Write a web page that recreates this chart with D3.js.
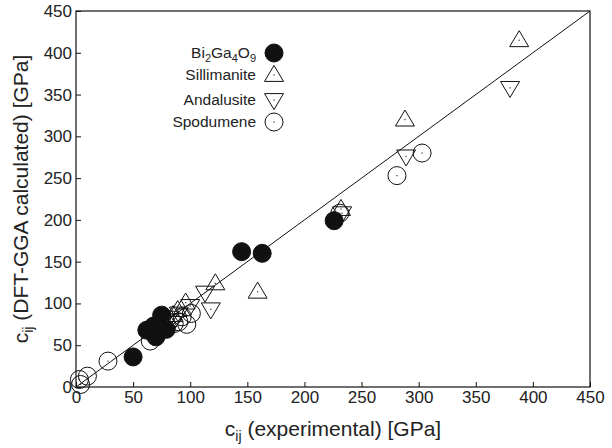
<!DOCTYPE html>
<html>
<head>
<meta charset="utf-8">
<script src="https://cdn.jsdelivr.net/npm/d3@7"></script>
<style>
    body { margin: 0; background: #fff; }
    svg { display: block; font-family: "Liberation Sans", Arial, sans-serif; }
</style>
</head>
<body>
<svg id="chart" width="612" height="448"></svg>
<script>
// values, [experimental, calculated] in GPa
let bi2ga4o9 = [[50, 36], [62, 68], [68, 73], [70, 60], [75, 86], [79, 69], [145, 162], [163, 160], [226, 199]];
let sillimanite = [[388, 415], [288, 320], [232, 213], [159, 114], [122, 124], [96, 101], [89, 92], [85, 86], [80, 80]];
let andalusite = [[380, 358], [289, 276], [233, 208], [113, 113], [118, 93], [100, 97], [90, 88], [86, 80], [82, 83]];
let spodumene = [[303, 280], [281, 253], [231, 208], [3, 9], [4, 3], [10, 13], [28, 31], [65, 55], [90, 78], [97, 75], [101, 88], [93, 84], [86, 76]];
let ticks = [0, 50, 100, 150, 200, 250, 300, 350, 400, 450];
let seriesNames = ["Bi2Ga4O9", "Sillimanite", "Andalusite", "Spodumene"];

let svg = d3.select("#chart");

let plotL = 76, plotR = 590, plotT = 11, plotB = 387;
let x = d3.scaleLinear().domain([0, 450]).range([plotL, plotR]);
let y = d3.scaleLinear().domain([0, 450]).range([plotB, plotT]);

let ink = "#111";
let r = 9;

// axes with inward ticks
let xAxis = svg.append("g")
    .attr("transform", "translate(0," + plotB + ")")
    .call(d3.axisBottom(x).tickValues(ticks).tickSizeInner(-5).tickSizeOuter(0).tickPadding(4));
let yAxis = svg.append("g")
    .attr("transform", "translate(" + plotL + ",0)")
    .call(d3.axisLeft(y).tickValues(ticks).tickSizeInner(-5).tickSizeOuter(0).tickPadding(4));

for (let ax of [xAxis, yAxis]) {
    ax.select(".domain").remove();
    ax.selectAll("line").attr("stroke", ink);
    ax.selectAll("text")
        .attr("fill", "#222")
        .attr("font-size", 17)
        .attr("font-family", "Liberation Sans, Arial, sans-serif");
}

svg.append("rect")
    .attr("x", plotL)
    .attr("y", plotT)
    .attr("width", plotR - plotL)
    .attr("height", plotB - plotT)
    .attr("fill", "none")
    .attr("stroke", ink)
    .attr("stroke-width", 1.2);

// y = x reference line
svg.append("line")
    .attr("x1", x(0)).attr("y1", y(0))
    .attr("x2", x(450)).attr("y2", y(450))
    .attr("stroke", ink)
    .attr("stroke-width", 1);

let triUp = (cx, cy) => {
    let h = 16, w = 19;
    return "M" + cx + "," + (cy - h * 0.6) + "L" + (cx + w / 2) + "," + (cy + h * 0.4) + "L" + (cx - w / 2) + "," + (cy + h * 0.4) + "Z";
};
let triDown = (cx, cy) => {
    let h = 16, w = 19;
    return "M" + cx + "," + (cy + h * 0.6) + "L" + (cx + w / 2) + "," + (cy - h * 0.4) + "L" + (cx - w / 2) + "," + (cy - h * 0.4) + "Z";
};

let drawMarker = (g, kind, cx, cy) => {
    if (kind == 0) {
        g.append("circle").attr("cx", cx).attr("cy", cy).attr("r", r).attr("fill", ink);
        return;
    }
    if (kind == 1) g.append("path").attr("d", triUp(cx, cy));
    else if (kind == 2) g.append("path").attr("d", triDown(cx, cy));
    else g.append("circle").attr("cx", cx).attr("cy", cy).attr("r", r);
    // the little centre dot
    g.append("rect").attr("x", cx - 0.6).attr("y", cy - 0.6).attr("width", 1.2).attr("height", 1.2)
        .attr("fill", "#333").attr("stroke", "none");
};

let allSeries = [bi2ga4o9, sillimanite, andalusite, spodumene];
let marks = svg.append("g")
    .attr("fill", "none")
    .attr("stroke", ink)
    .attr("stroke-width", 1);

allSeries.forEach((data, k) => {
    let g = marks.append("g").attr("class", "series-" + k);
    for (let d of data) drawMarker(g, k, x(d[0]), y(d[1]));
});

// legend
let legendY = [53, 75, 100, 122];
let legend = svg.append("g");
seriesNames.forEach((name, k) => {
    let t = legend.append("text")
        .attr("x", 256)
        .attr("y", legendY[k])
        .attr("dy", "0.35em")
        .attr("text-anchor", "end")
        .attr("font-size", 15.5)
        .attr("fill", "#222");
    if (k == 0) {
        t.append("tspan").text("Bi");
        t.append("tspan").attr("font-size", 11).attr("dy", 4).text("2");
        t.append("tspan").attr("dy", -4).text("Ga");
        t.append("tspan").attr("font-size", 11).attr("dy", 4).text("4");
        t.append("tspan").attr("dy", -4).text("O");
        t.append("tspan").attr("font-size", 11).attr("dy", 4).text("9");
    } else {
        t.text(name);
    }
    let g = legend.append("g").attr("fill", "none").attr("stroke", ink).attr("stroke-width", 1);
    drawMarker(g, k, 274, legendY[k]);
});

// axis titles
let xt = svg.append("text")
    .attr("x", 333)
    .attr("y", 436)
    .attr("text-anchor", "middle")
    .attr("font-size", 21)
    .attr("fill", "#222");
xt.append("tspan").text("c");
xt.append("tspan").attr("font-size", 14).attr("dy", 5).text("ij");
xt.append("tspan").attr("dy", -5).text(" (experimental) [GPa]");

let yt = svg.append("text")
    .attr("transform", "translate(28," + (plotT + plotB) / 2 + ") rotate(-90)")
    .attr("text-anchor", "middle")
    .attr("font-size", 21)
    .attr("fill", "#222");
yt.append("tspan").text("c");
yt.append("tspan").attr("font-size", 14).attr("dy", 5).text("ij");
yt.append("tspan").attr("dy", -5).text(" (DFT-GGA calculated) [GPa]");
</script>
</body>
</html>
